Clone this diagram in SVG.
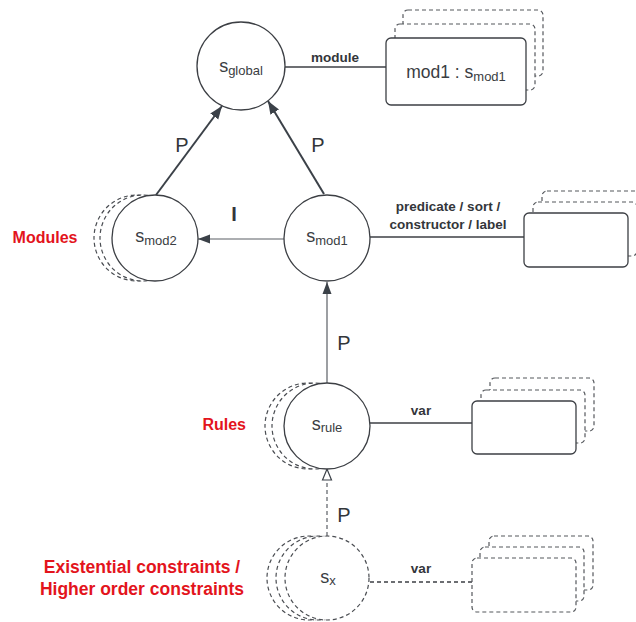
<svg xmlns="http://www.w3.org/2000/svg" width="636" height="622" viewBox="0 0 636 622">
  <defs>
    <style>
      .node { fill: #ffffff; stroke: #3c3f44; stroke-width: 1.3; }
      .ghost { fill: #ffffff; stroke: #4a4d52; stroke-width: 1.2; stroke-dasharray: 4 3; }
      .box { fill: #ffffff; stroke: #3c3f44; stroke-width: 1.3; }
      .gbox { fill: #ffffff; stroke: #55585d; stroke-width: 1.2; stroke-dasharray: 4 3; }
      .lbl { font-family: "Liberation Sans", Arial, sans-serif; fill: #3a3d42; }
      .edge-lbl { font-family: "Liberation Sans", Arial, sans-serif; font-weight: bold; font-size: 13.5px; fill: #33363a; text-anchor: middle; }
      .big { font-size: 18px; }
      .sub { font-size: 13px; }
      .plbl { font-family: "Liberation Sans", Arial, sans-serif; font-size: 20px; fill: #33363a; text-anchor: middle; }
      .red { font-family: "Liberation Sans", Arial, sans-serif; font-weight: bold; fill: #e3141c; }
      .thick { stroke: #3b4148; stroke-width: 2; fill: none; }
      .thin { stroke: #5b5f65; stroke-width: 1.2; fill: none; }
      .link { stroke: #3c3f44; stroke-width: 1.5; fill: none; }
      .dash { stroke-dasharray: 4 3; }
      .tick { stroke: #3c3f44; stroke-width: 2; }
    </style>
    <marker id="headFilled" markerUnits="userSpaceOnUse" markerWidth="14" markerHeight="12" refX="13" refY="6" orient="auto">
      <path d="M0,1 L13,6 L0,11 Z" fill="#3b4148"/>
    </marker>
    <marker id="headSmall" markerUnits="userSpaceOnUse" markerWidth="14" markerHeight="12" refX="12" refY="6" orient="auto">
      <path d="M0,1.5 L12,6 L0,10.5 Z" fill="#3b4148"/>
    </marker>
    <marker id="headOpen" markerUnits="userSpaceOnUse" markerWidth="14" markerHeight="12" refX="12" refY="6" orient="auto">
      <path d="M1,1.5 L12,6 L1,10.5 Z" fill="#ffffff" stroke="#3b4148" stroke-width="1.2"/>
    </marker>
  </defs>

  <!-- section labels -->
  <text class="red" x="45" y="243" font-size="16" text-anchor="middle">Modules</text>
  <text class="red" x="246" y="430" font-size="16" text-anchor="end">Rules</text>
  <text class="red" x="142" y="573" font-size="17.5" text-anchor="middle">Existential constraints /</text>
  <text class="red" x="142" y="595" font-size="17.5" text-anchor="middle">Higher order constraints</text>

  <!-- connectors -->
  <g id="connectors">
    <line class="thick" x1="156" y1="195" x2="222" y2="106" marker-end="url(#headFilled)"/>
    <line class="thick" x1="324" y1="194" x2="268" y2="101" marker-end="url(#headFilled)"/>
    <line class="thin" x1="284" y1="239" x2="198" y2="239" marker-end="url(#headSmall)"/>
    <line class="thin" x1="327" y1="383" x2="327" y2="282" marker-end="url(#headSmall)"/>
    <line class="thin dash" x1="327" y1="536" x2="327" y2="469" marker-end="url(#headOpen)"/>

    <line class="link" x1="285" y1="67" x2="386" y2="67"/>
    <line class="tick" x1="387" y1="59" x2="387" y2="77"/>
    <line class="link" x1="370" y1="237" x2="524" y2="237"/>
    <line class="tick" x1="525" y1="229" x2="525" y2="245"/>
    <line class="link" x1="370" y1="423" x2="472" y2="423"/>
    <line class="tick" x1="473" y1="415" x2="473" y2="431"/>
    <line class="link dash" x1="370" y1="582" x2="472" y2="582"/>
    <line class="tick" x1="473" y1="575" x2="473" y2="590"/>

    <text class="edge-lbl" x="335" y="62">module</text>
    <text class="edge-lbl" x="448" y="211">predicate / sort /</text>
    <text class="edge-lbl" x="448" y="229">constructor / label</text>
    <text class="edge-lbl" x="421" y="415">var</text>
    <text class="edge-lbl" x="421" y="573">var</text>

    <text class="plbl" x="182" y="152">P</text>
    <text class="plbl" x="318" y="152">P</text>
    <text class="plbl" x="234" y="221" font-weight="bold" font-size="19">I</text>
    <text class="plbl" x="344" y="350">P</text>
    <text class="plbl" x="344" y="522">P</text>
  </g>

  <!-- s_global -->
  <g id="s_global">
    <circle class="node" cx="241" cy="66" r="44"/>
    <text class="lbl" x="241" y="72" text-anchor="middle"><tspan class="big">s</tspan><tspan class="sub" dy="3">global</tspan></text>
  </g>

  <!-- mod1 instance stack -->
  <g id="mod1_box">
    <rect class="gbox" x="403" y="10" width="140" height="66" rx="5"/>
    <rect class="gbox" x="395" y="24" width="140" height="66" rx="5"/>
    <rect class="box" x="386" y="38" width="140" height="67" rx="5"/>
    <text class="lbl" x="456" y="78" text-anchor="middle"><tspan font-size="17.5">mod1 : s</tspan><tspan class="sub" dy="3">mod1</tspan></text>
  </g>

  <!-- s_mod2 -->
  <g id="s_mod2">
    <circle class="ghost" cx="137" cy="238" r="43"/>
    <circle class="ghost" cx="143" cy="238" r="43"/>
    <circle class="node" cx="155" cy="238" r="43"/>
    <text class="lbl" x="156" y="242" text-anchor="middle"><tspan class="big">s</tspan><tspan class="sub" dy="3">mod2</tspan></text>
  </g>

  <!-- s_mod1 -->
  <g id="s_mod1">
    <circle class="node" cx="327" cy="238" r="43"/>
    <text class="lbl" x="327" y="242" text-anchor="middle"><tspan class="big">s</tspan><tspan class="sub" dy="3">mod1</tspan></text>
  </g>

  <!-- declaration stack -->
  <g id="decl_box">
    <rect class="gbox" x="542" y="191" width="104" height="54" rx="5"/>
    <rect class="gbox" x="533" y="202" width="104" height="54" rx="5"/>
    <rect class="box" x="524" y="213" width="104" height="54" rx="5"/>
  </g>

  <!-- s_rule -->
  <g id="s_rule">
    <circle class="ghost" cx="308" cy="426" r="43"/>
    <circle class="ghost" cx="315" cy="426" r="43"/>
    <circle class="node" cx="327" cy="426" r="43"/>
    <text class="lbl" x="327" y="430" text-anchor="middle"><tspan class="big">s</tspan><tspan class="sub" dy="2">rule</tspan></text>
  </g>

  <!-- rule variable stack -->
  <g id="rule_var_box">
    <rect class="gbox" x="490" y="378" width="104" height="53" rx="5"/>
    <rect class="gbox" x="481" y="390" width="104" height="53" rx="5"/>
    <rect class="box" x="472" y="401" width="104" height="53" rx="5"/>
  </g>

  <!-- s_x -->
  <g id="s_x">
    <circle class="ghost" cx="309" cy="578" r="42"/>
    <circle class="ghost" cx="318" cy="578" r="42"/>
    <circle class="ghost" cx="327" cy="578" r="42"/>
    <text class="lbl" x="328" y="583" text-anchor="middle"><tspan class="big">s</tspan><tspan class="sub" dy="2">x</tspan></text>
  </g>

  <!-- constraint variable stack -->
  <g id="x_var_box">
    <rect class="gbox" x="489" y="536" width="104" height="54" rx="5"/>
    <rect class="gbox" x="480" y="547" width="104" height="54" rx="5"/>
    <rect class="gbox" x="472" y="558" width="104" height="54" rx="5"/>
  </g>
</svg>
